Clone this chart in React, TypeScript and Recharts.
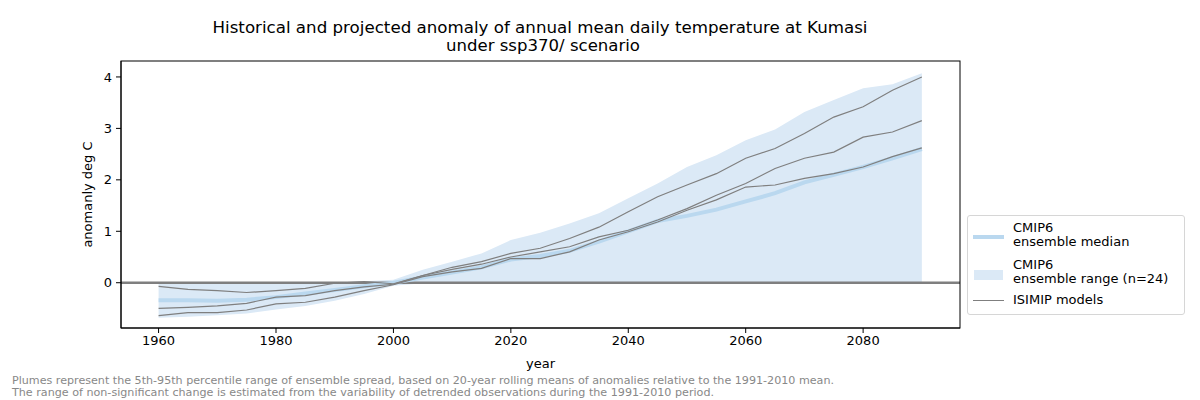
import { ComposedChart, Area, Line, XAxis, YAxis, ReferenceLine } from "recharts";

const years = [
  1960, 1965, 1970, 1975, 1980, 1985, 1990, 1995, 2000, 2005, 2010, 2015, 2020, 2025,
  2030, 2035, 2040, 2045, 2050, 2055, 2060, 2065, 2070, 2075, 2080, 2085, 2090,
];

const modelA = [
  -0.07, -0.13, -0.155, -0.19, -0.155, -0.11, -0.01, 0.02, -0.02, 0.14, 0.26, 0.36, 0.5, 0.6,
  0.7, 0.89, 1.02, 1.22, 1.44, 1.7, 1.93, 2.22, 2.42, 2.54, 2.83, 2.93, 3.15,
];
const modelB = [
  -0.5, -0.48, -0.45, -0.4, -0.28, -0.25, -0.155, -0.08, -0.03, 0.14, 0.3, 0.41, 0.57, 0.67,
  0.86, 1.08, 1.38, 1.67, 1.9, 2.12, 2.42, 2.61, 2.9, 3.22, 3.42, 3.74, 4.0,
];
const modelC = [
  -0.64, -0.58, -0.58, -0.53, -0.41, -0.38, -0.28, -0.155, -0.04, 0.12, 0.21, 0.28, 0.47, 0.47,
  0.6, 0.83, 0.99, 1.18, 1.41, 1.61, 1.86, 1.9, 2.03, 2.12, 2.25, 2.45, 2.62,
];
const median = [
  -0.34, -0.34, -0.35, -0.33, -0.28, -0.21, -0.14, -0.07, 0.0, 0.1, 0.2, 0.3, 0.45, 0.52,
  0.62, 0.8, 1.0, 1.2, 1.3, 1.42, 1.58, 1.74, 1.95, 2.1, 2.25, 2.42, 2.6,
];
const rangeLow = [
  -0.68, -0.66, -0.63, -0.6, -0.52, -0.45, -0.35, -0.22, -0.06, -0.01, -0.01, -0.01, -0.01, -0.01,
  -0.01, -0.01, -0.01, -0.01, -0.01, -0.01, -0.01, -0.01, -0.01, -0.01, -0.01, -0.01, -0.01,
];
const rangeHigh = [
  -0.02, -0.02, -0.02, -0.02, -0.02, -0.01, 0.0, 0.03, 0.06, 0.25, 0.41, 0.57, 0.83, 0.97,
  1.15, 1.35, 1.64, 1.93, 2.25, 2.48, 2.77, 2.98, 3.32, 3.55, 3.78, 3.86, 4.07,
];

const xTicks = [1960, 1980, 2000, 2020, 2040, 2060, 2080];
const yTicks = [0, 1, 2, 3, 4];

const data = years.map((year, i) => ({
  year,
  a: modelA[i],
  b: modelB[i],
  c: modelC[i],
  median: median[i],
  range: [rangeLow[i], rangeHigh[i]],
}));

const FONT = "'DejaVu Sans', sans-serif";
const BAND = "#dbe9f6";
const MEDIAN = "#bad8ef";
const GREY = "#7f7f7f";

const tickStyle = { fill: "#000", fontSize: 13, fontFamily: FONT };

export default function App() {
  return (
    <div style={{ position: "absolute", left: 0, top: 0, width: 1200, height: 400, background: "#fff" }}>
      <ComposedChart
        width={1200}
        height={400}
        data={data}
        margin={{ top: 61, right: 240, bottom: 42, left: 81 }}
      >
        <XAxis
          dataKey="year"
          type="number"
          domain={[1953.6, 2096.5]}
          ticks={xTicks}
          height={30}
          tick={tickStyle}
          tickSize={5}
          tickMargin={3}
          stroke="#000"
        />
        <YAxis
          type="number"
          domain={[-0.88, 4.31]}
          ticks={yTicks}
          width={40}
          tick={tickStyle}
          tickSize={5}
          tickMargin={4}
          stroke="#000"
        />
        <Area dataKey="range" type="linear" fill={BAND} fillOpacity={1} stroke="none" isAnimationActive={false} />
        <ReferenceLine y={0} stroke={GREY} strokeWidth={2.5} />
        <Line dataKey="median" type="linear" stroke={MEDIAN} strokeWidth={4} dot={false} isAnimationActive={false} />
        <Line dataKey="a" type="linear" stroke={GREY} strokeWidth={1.2} dot={false} isAnimationActive={false} />
        <Line dataKey="b" type="linear" stroke={GREY} strokeWidth={1.2} dot={false} isAnimationActive={false} />
        <Line dataKey="c" type="linear" stroke={GREY} strokeWidth={1.2} dot={false} isAnimationActive={false} />
      </ComposedChart>

      <svg width={1200} height={400} style={{ position: "absolute", left: 0, top: 0, pointerEvents: "none" }}>
        {/* axes frame (matplotlib spines) */}
        <rect x={121} y={61} width={839} height={267} fill="none" stroke="#000" strokeWidth={1} />
        <text x={540} y={33} textAnchor="middle" fontSize={15.5} fontFamily={FONT} fill="#000" textLength={655} lengthAdjust="spacingAndGlyphs">
          Historical and projected anomaly of annual mean daily temperature at Kumasi
        </text>
        <text x={543} y={51} textAnchor="middle" fontSize={15.5} fontFamily={FONT} fill="#000" textLength={194} lengthAdjust="spacingAndGlyphs">
          under ssp370/ scenario
        </text>
        <text x={540.5} y={368} textAnchor="middle" fontSize={13} fontFamily={FONT} fill="#000">
          year
        </text>
        <text
          x={92}
          y={194.5}
          textAnchor="middle"
          fontSize={13}
          fontFamily={FONT}
          fill="#000"
          transform="rotate(-90 92 194.5)"
        >
          anomanly deg C
        </text>
        <text x={12} y={384} fontSize={10} fontFamily={FONT} fill="#888" textLength={822} lengthAdjust="spacingAndGlyphs">
          Plumes represent the 5th-95th percentile range of ensemble spread, based on 20-year rolling means of anomalies relative to the 1991-2010 mean.
        </text>
        <text x={12} y={396} fontSize={10} fontFamily={FONT} fill="#888" textLength={702} lengthAdjust="spacingAndGlyphs">
          The range of non-significant change is estimated from the variability of detrended observations during the 1991-2010 period.
        </text>
      </svg>

      <div
        style={{
          position: "absolute",
          left: 967,
          top: 215,
          width: 216,
          height: 98,
          border: "1px solid #d6d6d6",
          borderRadius: 3,
          background: "#fff",
          fontFamily: FONT,
          fontSize: 13,
          color: "#000",
        }}
      >
        <div style={{ position: "absolute", left: 5, top: 19, width: 31, height: 4, background: MEDIAN }} />
        <div style={{ position: "absolute", left: 45, top: 5, lineHeight: "14px" }}>
          CMIP6
          <br />
          ensemble median
        </div>
        <div style={{ position: "absolute", left: 6, top: 54, width: 29, height: 10, background: BAND }} />
        <div style={{ position: "absolute", left: 45, top: 42, lineHeight: "14px", whiteSpace: "nowrap" }}>
          CMIP6
          <br />
          ensemble range (n=24)
        </div>
        <div style={{ position: "absolute", left: 5, top: 84, width: 31, height: 1.2, background: GREY }} />
        <div style={{ position: "absolute", left: 45, top: 77, lineHeight: "14px" }}>ISIMIP models</div>
      </div>
    </div>
  );
}
